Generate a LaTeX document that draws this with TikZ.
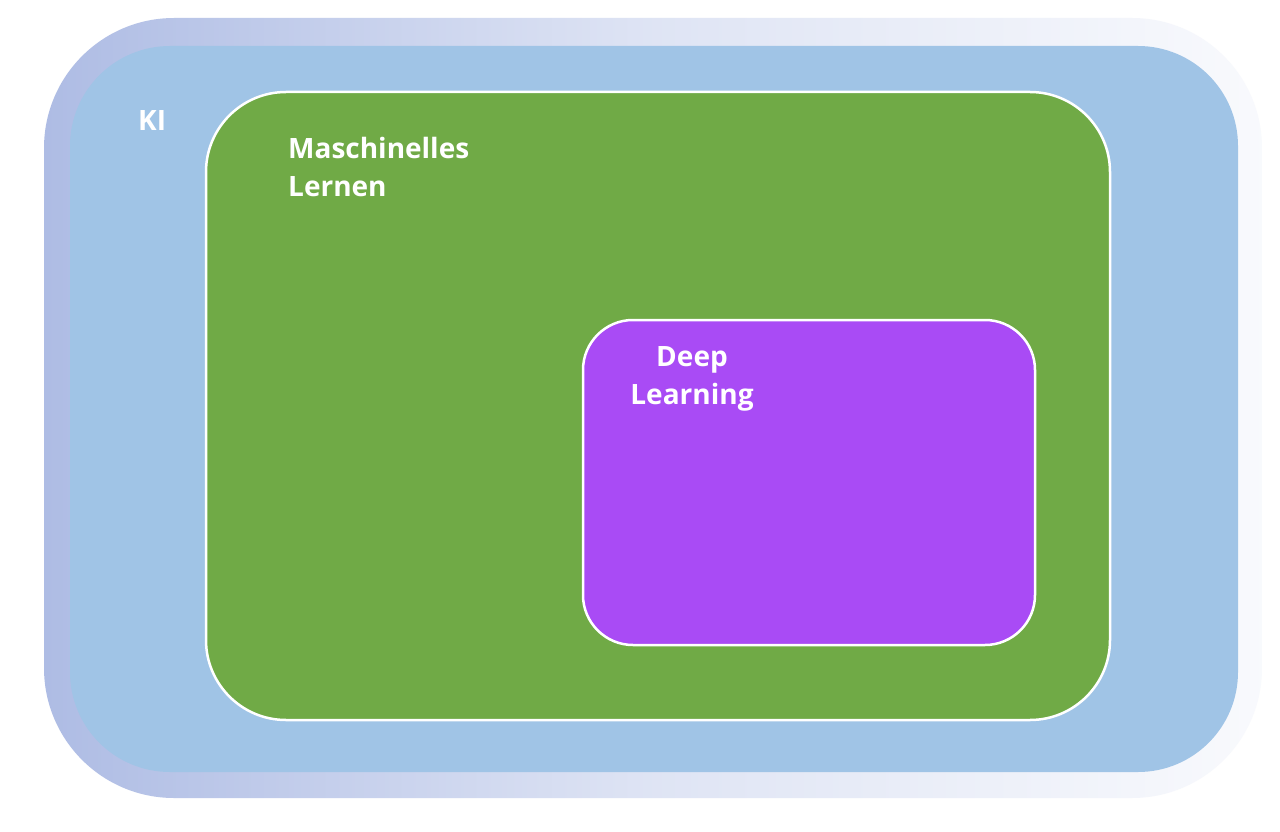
\documentclass[tikz,border=0pt]{standalone}
\usepackage{fontspec}
\setmainfont{Open Sans}
\definecolor{kiblue}{HTML}{A0C4E6}
\definecolor{frameL}{HTML}{AEBCE4}
\definecolor{mlgreen}{HTML}{70AA46}
\definecolor{dlpurple}{HTML}{A94BF5}
\tikzset{lbl/.style={text=white,font=\bfseries\fontsize{28}{38}\selectfont,align=left,inner sep=0pt}}
\begin{document}
\begin{tikzpicture}[x=1pt,y=-1pt]
\useasboundingbox (0,0) rectangle (1280,832);
\fill[white] (0,0) rectangle (1280,832);
\shade[left color=frameL,right color=white!92!frameL,middle color=frameL!40!white,rounded corners=130] (44,18) rectangle (1262,798);
\node[fill=kiblue,rounded corners=100,minimum width=1168,minimum height=726,inner sep=0pt] (ki) at (654,409) {};
\node[fill=mlgreen,draw=white,line width=2.5pt,rounded corners=80,minimum width=904,minimum height=628,inner sep=0pt] (ml) at (658,406) {};
\node[fill=dlpurple,draw=white,line width=2.5pt,rounded corners=50,minimum width=452,minimum height=325,inner sep=0pt] (dl) at (809,482.5) {};
\node[lbl,anchor=north west] (tki) at (138,110) {KI};
\node[lbl,anchor=north west] (tml) at (288,137) {Maschinelles\\Lernen};
\node[lbl,anchor=north,align=center] (tdl) at (692,346) {Deep\\Learning};
\end{tikzpicture}
\end{document}
